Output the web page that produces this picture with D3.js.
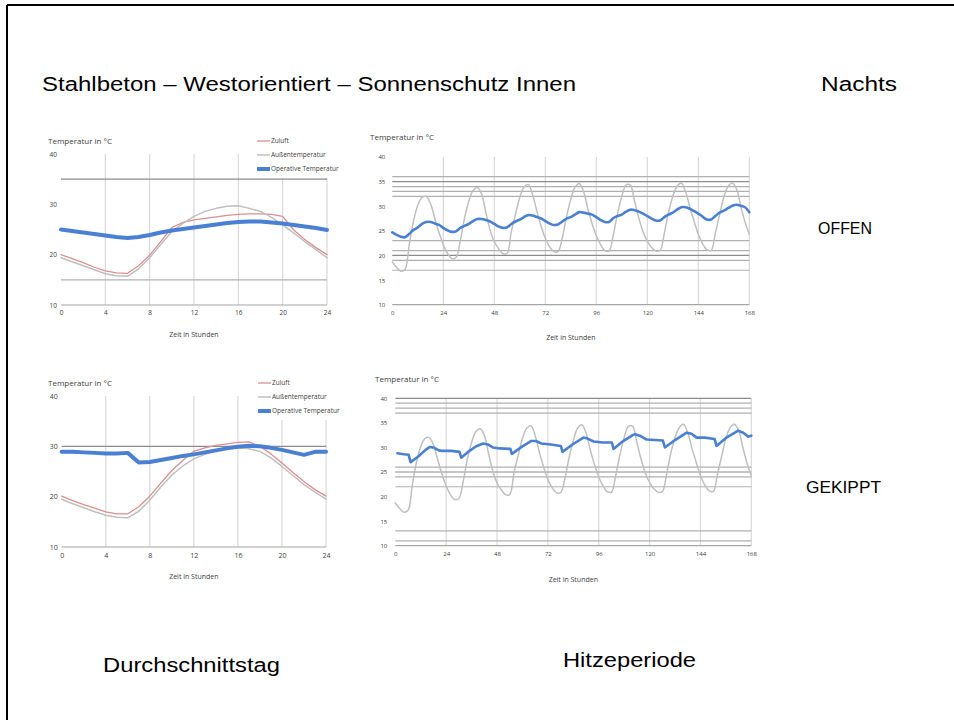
<!DOCTYPE html>
<html>
<head>
<meta charset="utf-8">
<script src="https://cdn.jsdelivr.net/npm/d3@7"></script>
<style>
  html, body { margin: 0; padding: 0; background: #fff; }
  svg { display: block; }
  .chart-text { font-family: "Open Sans", "Noto Sans", sans-serif; fill: #404040; }
  .slide-text { font-family: "Liberation Sans", Arial, sans-serif; fill: #000; }
</style>
</head>
<body>
<svg id="slide" width="954" height="720"></svg>
<script>
// ---- Durchschnittstag (hourly, 0–24 h) ----
const dayHours = d3.range(0, 25);
const dayZuluftOffen = [20.0, 19.2, 18.4, 17.5, 16.8, 16.4, 16.3, 17.8, 19.9, 22.6, 25.4, 26.4, 26.9, 27.2, 27.5, 27.8, 28.0, 28.1, 28.1, 28.0, 27.6, 24.9, 23.0, 21.4, 20.0];
const dayAussenOffen = [19.4, 18.6, 17.8, 17.0, 16.2, 15.8, 15.7, 17.2, 19.4, 22.0, 24.6, 26.2, 27.6, 28.6, 29.2, 29.6, 29.7, 29.2, 28.6, 27.4, 25.9, 24.3, 22.6, 21.0, 19.4];
const dayOperativOffen = [25.0, 24.7, 24.4, 24.1, 23.8, 23.5, 23.3, 23.5, 23.9, 24.4, 24.8, 25.1, 25.4, 25.7, 26.0, 26.3, 26.5, 26.6, 26.6, 26.4, 26.2, 25.9, 25.6, 25.3, 24.9];

const dayZuluftGekippt = [20.1, 19.2, 18.4, 17.7, 17.0, 16.6, 16.6, 18.0, 20.1, 22.7, 25.2, 27.2, 29.0, 29.7, 30.2, 30.5, 30.8, 30.9, 30.0, 28.5, 26.7, 24.8, 23.0, 21.4, 20.1];
const dayAussenGekippt = [19.5, 18.6, 17.8, 17.0, 16.3, 15.9, 15.8, 17.1, 19.3, 21.9, 24.3, 26.1, 27.5, 28.4, 29.1, 29.5, 29.7, 29.5, 29.0, 27.7, 26.0, 24.2, 22.4, 20.9, 19.5];
const dayOperativGekippt = [28.9, 28.9, 28.8, 28.7, 28.6, 28.6, 28.7, 26.8, 26.9, 27.3, 27.7, 28.1, 28.4, 28.8, 29.2, 29.6, 29.9, 30.1, 30.0, 29.7, 29.3, 28.8, 28.3, 28.9, 28.9];

// ---- Hitzeperiode (every 2 h, 0–168 h) ----
const weekHours = d3.range(0, 169, 2);
const weekAussen = [18.7, 17.6, 16.8, 17.2, 22.3, 27.0, 30.2, 31.8, 32.0, 30.5, 27.5, 24.6, 22.2, 20.4, 19.4,
  19.6, 23.0, 27.6, 31.0, 33.2, 33.8, 32.5, 28.8, 25.2, 22.8, 21.4, 20.4,
  20.4, 24.8, 28.4, 31.8, 33.9, 34.4, 32.4, 29.0, 26.0, 23.5, 21.8, 20.8,
  20.8, 23.6, 27.9, 31.4, 33.9, 34.6, 33.0, 29.5, 26.5, 24.0, 22.2, 21.0,
  20.9, 24.2, 28.5, 32.0, 34.3, 34.3, 31.0, 27.6, 24.8, 22.9, 21.6, 20.9,
  21.0, 24.5, 28.8, 32.0, 34.0, 34.7, 33.0, 29.8, 27.0, 24.3, 22.4, 21.2,
  21.0, 24.5, 28.2, 31.8, 34.0, 34.7, 33.5, 30.0, 26.8, 24.3];
const weekOperativOffen = [24.7, 24.2, 23.8, 23.7, 24.4, 25.2, 25.7, 26.4, 26.8, 26.8, 26.5, 26.2, 25.6, 25.1, 24.8,
  24.9, 25.6, 26.0, 26.4, 27.0, 27.4, 27.4, 27.2, 26.9, 26.4, 25.9, 25.6,
  25.7, 26.4, 26.9, 27.3, 27.8, 28.2, 28.1, 27.8, 27.5, 27.0, 26.5, 26.2,
  26.3, 26.9, 27.5, 27.8, 28.3, 28.8, 28.7, 28.5, 28.3, 27.8, 27.2, 26.8,
  26.8, 27.6, 28.0, 28.3, 28.9, 29.3, 29.2, 28.9, 28.5, 28.0, 27.5, 27.1,
  27.1, 27.8, 28.3, 28.7, 29.3, 29.8, 29.8, 29.5, 29.0, 28.5, 27.9, 27.3,
  27.3, 28.0, 28.7, 29.1, 29.6, 30.1, 30.3, 30.1, 29.8, 28.8];

// Operative temperature with tilted window: break points (hour, °C)
const gekipptHours = [1, 4, 6.3, 7.2, 10.7, 14, 16.2, 18, 20.5, 22, 26.4, 30.3, 31.1, 35, 38, 41.4, 43.7, 46, 49.2, 54.3, 55,
  59.3, 64, 66.3, 69, 73.4, 78.1, 78.9, 83.6, 88.8, 90.7, 93.6, 97.8, 102.2, 103, 107.2, 112, 113.1, 115.4, 118.6,
  122.5, 126.3, 127.2, 132, 137.5, 139.8, 142.2, 146.1, 150.7, 151.6, 156.3, 161.8, 164.2, 166.6, 168];
const gekipptOperativ = [28.8, 28.6, 28.5, 27.0, 28.1, 29.4, 30.1, 30.0, 29.4, 29.3, 29.3, 29.1, 27.9, 29.3, 30.2, 30.8, 30.6, 30.0, 29.8, 29.7, 28.7,
  30.0, 31.3, 31.3, 30.8, 30.6, 30.3, 29.1, 30.6, 32.0, 31.8, 31.2, 31.0, 31.0, 29.7, 31.2, 32.5, 32.7, 32.4, 31.6,
  31.5, 31.4, 30.0, 31.5, 33.0, 32.8, 32.0, 32.0, 31.7, 30.3, 32.0, 33.4, 33.0, 32.2, 32.4];

// ---- Axes, reference lines, labels ----
const dayTicksX = [0, 4, 8, 12, 16, 20, 24];
const dayTicksY = [10, 20, 30, 40];
const weekTicksX = [0, 24, 48, 72, 96, 120, 144, 168];
const weekTicksY = [10, 15, 20, 25, 30, 35, 40];
const refLinesOffenDay = [35, 15];
const refLinesGekipptDay = [30];
const refLinesOffenWeek = [36, 35, 34, 33, 32, 23, 21, 20, 19, 17];
const refLinesGekipptWeek = [40, 39, 38, 37, 26, 25, 24, 22, 13, 11];
const darkRefValues = [35, 20, 40, 25, 30];
const seriesNames = ["Zuluft", "Außentemperatur", "Operative Temperatur"];
const yTitle = "Temperatur in °C";
const xTitle = "Zeit in Stunden";
const captionTexts = ["Stahlbeton – Westorientiert – Sonnenschutz Innen", "Nachts", "OFFEN", "GEKIPPT", "Durchschnittstag", "Hitzeperiode"];

const svg = d3.select("#slide");

// slide frame
svg.append("line").attr("x1", 7).attr("x2", 954).attr("y1", 5).attr("y2", 5)
  .attr("stroke", "#000").attr("stroke-width", 2);
svg.append("line").attr("x1", 7).attr("x2", 7).attr("y1", 5).attr("y2", 720)
  .attr("stroke", "#000").attr("stroke-width", 2);

const styles = {
  zuluft: { color: "#dc8f8f", width: 1.3 },
  aussen: { color: "#bfbfbf", width: 1.5 },
  operativ: { color: "#4a80d3", width: 4 }
};

function drawChart(cfg) {
  const g = svg.append("g");
  const x = d3.scaleLinear().domain(cfg.xDomain).range([cfg.left, cfg.right]);
  const y = d3.scaleLinear().domain([10, 40]).range([cfg.bottom, cfg.top]);

  // vertical gridlines
  g.append("g").selectAll("line").data(cfg.ticksX.filter(t => t !== cfg.xDomain[0])).join("line")
    .attr("x1", d => x(d)).attr("x2", d => x(d))
    .attr("y1", y(40)).attr("y2", y(10))
    .attr("stroke", "#d9d9d9").attr("stroke-width", 1.2);

  // horizontal reference lines
  g.append("g").selectAll("line").data(cfg.refLines).join("line")
    .attr("x1", x(cfg.xDomain[0])).attr("x2", x(cfg.xDomain[1]))
    .attr("y1", d => y(d)).attr("y2", d => y(d))
    .attr("stroke", d => darkRefValues.includes(d) ? "#8c8c8c" : "#b0b0b0")
    .attr("stroke-width", 1.2);

  // x axis line
  g.append("line")
    .attr("x1", x(cfg.xDomain[0])).attr("x2", x(cfg.xDomain[1]))
    .attr("y1", y(10)).attr("y2", y(10))
    .attr("stroke", "#a6a6a6").attr("stroke-width", 1.2);

  // tick labels via axes
  const xAxis = d3.axisBottom(x).tickValues(cfg.ticksX).tickSize(0).tickPadding(cfg.xPad);
  const gx = g.append("g").attr("transform", `translate(0,${y(10)})`).call(xAxis);
  const yAxis = d3.axisLeft(y).tickValues(cfg.ticksY).tickSize(0).tickPadding(cfg.yPad);
  const gy = g.append("g").attr("transform", `translate(${x(cfg.xDomain[0])},0)`).call(yAxis);
  [gx, gy].forEach(a => {
    a.select(".domain").remove();
    a.selectAll("text").attr("class", "chart-text").attr("font-size", cfg.tickFont).attr("fill", "#404040");
  });

  // titles
  g.append("text").attr("class", "chart-text").attr("x", cfg.titleX).attr("y", cfg.titleY)
    .attr("font-size", 8).text(yTitle);
  g.append("text").attr("class", "chart-text").attr("x", (cfg.left + cfg.right) / 2).attr("y", cfg.xTitleY)
    .attr("text-anchor", "middle").attr("font-size", 7).text(xTitle);

  // series
  cfg.series.forEach(s => {
    const line = d3.line().x((d, i) => x(s.xs[i])).y(d => y(d)).curve(s.curve || d3.curveLinear);
    g.append("path").datum(s.values)
      .attr("fill", "none").attr("stroke", s.style.color)
      .attr("stroke-width", s.width || s.style.width)
      .attr("stroke-linejoin", "round").attr("stroke-linecap", "round")
      .attr("d", line);
  });

  // legend
  if (cfg.legend) {
    const L = cfg.legend;
    g.append("rect").attr("x", L.x - 2).attr("y", L.y - 7).attr("width", 92).attr("height", L.dy * 3 + 2)
      .attr("fill", "#fff");
    const items = [styles.zuluft, styles.aussen, styles.operativ];
    items.forEach((st, i) => {
      const yy = L.y + i * L.dy;
      g.append("line").attr("x1", L.x).attr("x2", L.x + 13).attr("y1", yy).attr("y2", yy)
        .attr("stroke", st.color).attr("stroke-width", st.width);
      g.append("text").attr("class", "chart-text").attr("x", L.x + 14).attr("y", yy + 2.3)
        .attr("font-size", 6.5).text(seriesNames[i]);
    });
  }
}

// Nachts OFFEN — Durchschnittstag
drawChart({
  left: 61, right: 327, top: 154, bottom: 305, xDomain: [0, 24],
  ticksX: dayTicksX, ticksY: dayTicksY, refLines: refLinesOffenDay,
  tickFont: 6.5, xPad: 5, yPad: 4,
  titleX: 48, titleY: 144, xTitleY: 337,
  legend: { x: 257, y: 141, dy: 14 },
  series: [
    { xs: dayHours, values: dayZuluftOffen, style: styles.zuluft },
    { xs: dayHours, values: dayAussenOffen, style: styles.aussen },
    { xs: dayHours, values: dayOperativOffen, style: styles.operativ }
  ]
});

// Nachts OFFEN — Hitzeperiode
drawChart({
  left: 392.3, right: 749.3, top: 157, bottom: 304.7, xDomain: [0, 168],
  ticksX: weekTicksX, ticksY: weekTicksY, refLines: refLinesOffenWeek,
  tickFont: 6, xPad: 6, yPad: 7,
  titleX: 370, titleY: 140, xTitleY: 340,
  series: [
    { xs: weekHours, values: weekAussen, style: styles.aussen, curve: d3.curveCatmullRom },
    { xs: weekHours, values: weekOperativOffen, style: styles.operativ, width: 2.6, curve: d3.curveCatmullRom }
  ]
});

// Nachts GEKIPPT — Durchschnittstag
drawChart({
  left: 61.7, right: 326, top: 396, bottom: 547, xDomain: [0, 24],
  ticksX: dayTicksX, ticksY: dayTicksY, refLines: refLinesGekipptDay,
  tickFont: 7, xPad: 6, yPad: 4,
  titleX: 48, titleY: 386, xTitleY: 579,
  legend: { x: 258, y: 383, dy: 14 },
  series: [
    { xs: dayHours, values: dayZuluftGekippt, style: styles.zuluft },
    { xs: dayHours, values: dayAussenGekippt, style: styles.aussen },
    { xs: dayHours, values: dayOperativGekippt, style: styles.operativ }
  ]
});

// Nachts GEKIPPT — Hitzeperiode
drawChart({
  left: 395.3, right: 751.3, top: 398.3, bottom: 545.7, xDomain: [0, 168],
  ticksX: weekTicksX, ticksY: weekTicksY, refLines: refLinesGekipptWeek,
  tickFont: 6, xPad: 6, yPad: 8,
  titleX: 375, titleY: 382, xTitleY: 582,
  series: [
    { xs: weekHours, values: weekAussen, style: styles.aussen, curve: d3.curveCatmullRom },
    { xs: gekipptHours, values: gekipptOperativ, style: styles.operativ, width: 2.6 }
  ]
});

// slide captions: position, size and set width of each text line
const captionLayout = [
  { x: 42, y: 91, size: 20, width: 534 },
  { x: 821, y: 91, size: 20, width: 76 },
  { x: 818, y: 234, size: 17, width: 54 },
  { x: 806, y: 493, size: 17, width: 75 },
  { x: 103, y: 672, size: 20, width: 177 },
  { x: 563, y: 667, size: 20, width: 133 }
];
svg.append("g").selectAll("text").data(captionTexts).join("text")
  .attr("class", "slide-text")
  .attr("x", (d, i) => captionLayout[i].x).attr("y", (d, i) => captionLayout[i].y)
  .attr("font-size", (d, i) => captionLayout[i].size)
  .attr("textLength", (d, i) => captionLayout[i].width)
  .attr("lengthAdjust", "spacingAndGlyphs")
  .text(d => d);
</script>
</body>
</html>
